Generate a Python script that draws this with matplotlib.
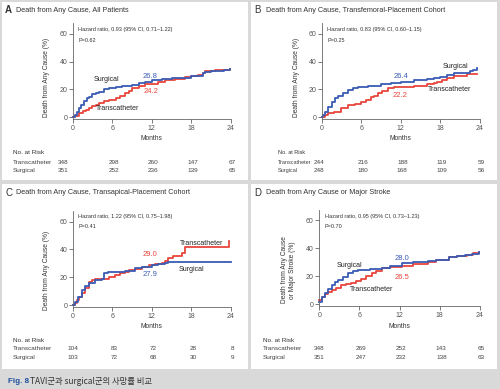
import numpy as np
import matplotlib
matplotlib.use("Agg")
import matplotlib.pyplot as plt
from matplotlib.patches import Rectangle

plt.rcParams['font.family'] = ['Liberation Sans', 'DejaVu Sans']

W, H = 500, 389
BLUE = '#3a5cb4'
RED = '#e8453c'
TXT = '#333333'

months = [0, 6, 12, 18, 24]
rows = ['Transcatheter', 'Surgical']

## panel A: all patients
a_sur_t = [0, 0.3, 0.6, 0.95, 1.3, 1.7, 2.1, 2.5, 3.0, 3.5, 4.0, 4.7, 5.5, 6.5, 7.5, 9.0, 10.0, 11.0, 12.0,
           13.5, 15.0, 16.5, 18.0, 19.0, 19.7, 20.1, 21.0, 22.0, 23.0, 23.9]
a_sur_y = [0, 1.5, 4, 6.5, 9, 11.5, 13.5, 14.8, 16.5, 17.5, 18.4, 20, 21.2, 22, 22.7, 23.2, 24.5, 25.5, 26.8,
           27.3, 28, 28.5, 29.3, 30, 31.5, 32.8, 33, 33.3, 34, 34.7]
a_tav_t = [0, 0.4, 0.95, 1.5, 2.0, 2.5, 3.0, 3.5, 4.0, 4.7, 5.5, 6.5, 7.2, 8.0, 8.5, 9.0, 10.0, 11.0, 12.0,
           13.0, 14.0, 15.5, 16.5, 17.0, 18.0, 19.0, 19.8, 20.1, 21.5, 23.1, 23.9]
a_tav_y = [0, 1, 2.9, 4.5, 5.5, 6.5, 8, 9, 10, 11.5, 12.5, 14, 15.5, 17.3, 19, 20.9, 22.5, 23.7, 24.2,
           25.5, 26.8, 27.3, 27.5, 29.2, 29.6, 30.6, 31.5, 33.3, 33.6, 34, 34.5]
a_risk = [[348, 298, 260, 147, 67], [351, 252, 236, 139, 65]]

## panel B: transfemoral cohort
b_sur_t = [0, 0.2, 0.5, 1.0, 1.5, 2.0, 2.5, 3.2, 4.0, 4.7, 5.5, 7.0, 9.0, 10.5, 12.0, 14.0, 16.0, 17.0,
           18.0, 19.0, 20.0, 21.0, 22.0, 22.5, 23.0, 23.5]
b_sur_y = [0, 2, 4, 7.5, 11.2, 13.5, 15.5, 17.5, 19.6, 21, 22, 22.8, 23.7, 24.8, 25.6, 26.5, 27.5, 28,
           29.2, 30.5, 31.6, 32, 32, 33, 34, 35.7]
b_tav_t = [0, 0.5, 1.0, 1.9, 3.0, 4.0, 5.0, 6.0, 6.7, 7.5, 8.0, 8.5, 9.2, 10.0, 11.0, 12.0, 14.0, 16.0,
           17.0, 17.5, 18.3, 19.0, 20.0, 20.5, 22.0, 23.5]
b_tav_y = [0, 1.6, 2.8, 4, 6.5, 8.8, 9.8, 11.2, 12.5, 14.8, 15.5, 17.3, 19, 20.9, 21.5, 22, 22.8, 23.7,
           24.5, 25.6, 27, 28, 29.5, 30, 31, 31.2]
b_risk = [[244, 216, 188, 119, 59], [248, 180, 168, 109, 56]]

## panel C: transapical cohort
c_tav_t = [0, 0.35, 0.7, 1.0, 1.36, 1.8, 2.4, 3.0, 3.4, 4.9, 5.5, 6.4, 7.2, 7.9, 8.6, 9.4, 10.5, 11.5,
           12.5, 13.5, 14.0, 14.5, 15.2, 16.0, 16.5, 17.0, 23.5, 23.7]
c_tav_y = [0, 1.2, 3.5, 5.5, 8.4, 12, 16.8, 17.8, 18.5, 18.5, 20, 21.6, 22.8, 24, 25, 25.7, 27.5, 28.8,
           29.3, 30, 32, 33.6, 35, 35.3, 37.5, 41.5, 41.5, 45.9]
c_sur_t = [0, 0.35, 0.8, 1.36, 1.9, 2.4, 3.4, 4.4, 4.8, 5.4, 7.9, 9.4, 10.5, 12.0, 13.0, 14.0, 14.5, 24.0]
c_sur_y = [0, 2.4, 6, 10.8, 13.5, 15.6, 18, 18.5, 22.8, 24, 24.7, 26.4, 27.3, 28.8, 29.5, 30.2, 31.2, 31.2]
c_risk = [[104, 83, 72, 28, 8], [103, 72, 68, 30, 9]]

## panel D: death or major stroke
d_sur_t = [0, 0.4, 0.85, 1.3, 1.85, 2.3, 2.8, 3.5, 4.3, 5.0, 5.8, 7.5, 9.3, 10.5, 12.3, 14.0, 16.3, 17.5,
           19.3, 20.5, 21.8, 22.8, 23.8]
d_sur_y = [1.9, 5, 7.9, 11, 13.8, 15.8, 17.4, 19.5, 22.1, 23.5, 24.5, 25.2, 25.7, 27.3, 29.3, 30, 31.1, 32,
           33.6, 34.5, 35.2, 36.2, 37.6]
d_tav_t = [0, 0.4, 0.85, 1.3, 1.85, 2.5, 3.3, 4.0, 4.8, 5.5, 6.3, 7.0, 7.8, 8.5, 9.3, 10.5, 12.3, 14.0,
           16.3, 17.5, 19.3, 20.5, 22.0, 23.0, 23.8]
d_tav_y = [3.1, 5.5, 7.4, 9, 10.2, 12, 13.8, 14.8, 15.4, 16.5, 17.9, 20, 22.1, 24, 25.7, 26.5, 27.4, 28.5,
           30.4, 32, 33.6, 34.8, 35.5, 36.5, 37.6]
d_risk = [[348, 269, 252, 143, 65], [351, 247, 232, 138, 63]]

panels = [
    dict(letter='A', title='Death from Any Cause, All Patients',
         ylabel='Death from Any Cause (%)',
         hr='Hazard ratio, 0.93 (95% CI, 0.71\u20131.22)', p='P=0.62',
         sur=(a_sur_t, a_sur_y), tav=(a_tav_t, a_tav_y), risk=a_risk,
         sur_lab=(5.1, 26.8), tav_lab=(6.8, 6.5), sur_num=('26.8', 11.7, 29.6), tav_num=('24.2', 11.9, 18.4),
         box=(2, 2, 248, 180), ax=(72.7, 231, 117.3, 1.393), title_y=10, ylab=(46, 77),
         hr_y=(30, 40), first_off=-10, lab_x=13, lab_fs=4.6, rows_y=(139, 153, 162.3, 170.7)),
    dict(letter='B', title='Death from Any Cause, Transfemoral-Placement Cohort',
         ylabel='Death from Any Cause (%)',
         hr='Hazard ratio, 0.83 (95% CI, 0.60\u20131.15)', p='P=0.25',
         sur=(b_sur_t, b_sur_y), tav=(b_tav_t, b_tav_y), risk=b_risk,
         sur_lab=(20.3, 36.8), tav_lab=(19.4, 19.6), sur_num=('26.4', 12.1, 29.6), tav_num=('22.2', 11.9, 16.0),
         box=(251, 2, 497, 180), ax=(321.7, 480, 117.3, 1.393), title_y=10, ylab=(296, 77),
         hr_y=(30, 40), first_off=-3, lab_x=278, lab_fs=4.0, rows_y=(139, 153, 162.3, 170.7)),
    dict(letter='C', title='Death from Any Cause, Transapical-Placement Cohort',
         ylabel='Death from Any Cause (%)',
         hr='Hazard ratio, 1.22 (95% CI, 0.75\u20131.98)', p='P=0.41',
         sur=(c_sur_t, c_sur_y), tav=(c_tav_t, c_tav_y), risk=c_risk,
         sur_lab=(18.0, 25.2), tav_lab=(19.5, 43.9), sur_num=('27.9', 11.7, 22.3), tav_num=('29.0', 11.7, 36.0),
         box=(2, 184, 248, 369), ax=(72.7, 231, 305, 1.39), title_y=193, ylab=(46, 270),
         hr_y=(216, 226), first_off=0, lab_x=13, lab_fs=4.6, rows_y=(326, 340, 348.3, 357.3)),
    dict(letter='D', title='Death from Any Cause or Major Stroke',
         ylabel='Death from Any Cause\nor Major Stroke (%)',
         hr='Hazard ratio, 0.95 (95% CI, 0.73\u20131.23)', p='P=0.70',
         sur=(d_sur_t, d_sur_y), tav=(d_tav_t, d_tav_y), risk=d_risk,
         sur_lab=(4.5, 28.0), tav_lab=(7.8, 10.9), sur_num=('28.0', 12.3, 32.9), tav_num=('26.5', 12.3, 19.3),
         box=(251, 184, 497, 369), ax=(319.3, 480, 304.3, 1.4), title_y=193, ylab=(288.5, 270),
         hr_y=(216, 226), first_off=0, lab_x=263, lab_fs=4.6, rows_y=(326, 340, 348.3, 357.3)),
]

fig = plt.figure(figsize=(W / 100, H / 100), dpi=100, facecolor='#d9d9d9')

def fx(px):
    return px / W

def fy(py):
    return 1 - py / H

for pn in panels:
    x1, y1, x2, y2 = pn['box']
    fig.patches.append(Rectangle((fx(x1), fy(y2)), (x2 - x1) / W, (y2 - y1) / H,
                                 transform=fig.transFigure, facecolor='white', edgecolor='none', zorder=-5))
    x0, x24, y0, ppu = pn['ax']
    ylo, yhi = -1.5, 67.5
    bottom = y0 - ylo * ppu
    top = y0 - yhi * ppu
    ax = fig.add_axes([fx(x0), fy(bottom), (x24 - x0) / W, (bottom - top) / H])
    ax.set_facecolor('none')
    ax.set_xlim(0, 24)
    ax.set_ylim(ylo, yhi)
    for s in ['top', 'right']:
        ax.spines[s].set_visible(False)
    for s in ['left', 'bottom']:
        ax.spines[s].set_color('#666666')
        ax.spines[s].set_linewidth(0.6)
    ax.set_xticks(months)
    ax.set_yticks([0, 20, 40, 60])
    ax.tick_params(length=3, width=0.6, color='#666666', pad=1, labelsize=5, labelcolor='#555555')

    ax.step(pn['tav'][0], pn['tav'][1], where='post', color=RED, lw=1.3, clip_on=False)
    ax.step(pn['sur'][0], pn['sur'][1], where='post', color=BLUE, lw=1.3, clip_on=False)

    ax.text(pn['sur_lab'][0], pn['sur_lab'][1], 'Surgical', fontsize=5, color='#222222', ha='center', va='center')
    ax.text(pn['tav_lab'][0], pn['tav_lab'][1], 'Transcatheter', fontsize=5, color='#222222', ha='center', va='center')
    ax.text(pn['sur_num'][1], pn['sur_num'][2], pn['sur_num'][0], fontsize=5.5, color=BLUE, ha='center', va='center')
    ax.text(pn['tav_num'][1], pn['tav_num'][2], pn['tav_num'][0], fontsize=5.5, color=RED, ha='center', va='center')

    # title and side texts
    fig.text(fx(x1 + 3), fy(pn['title_y']), pn['letter'], fontsize=7, fontweight='bold' if pn['letter'] == 'A' else 'normal',
             color=TXT, va='center')
    fig.text(fx(x1 + 14.5), fy(pn['title_y']), pn['title'], fontsize=5.2, color=TXT, va='center')
    fig.text(fx(pn['ylab'][0]), fy(pn['ylab'][1]), pn['ylabel'], fontsize=4.8, color=TXT, rotation=90,
             ha='center', va='center', linespacing=1.25)
    fig.text(fx(x0 + 5.5), fy(pn['hr_y'][0]), pn['hr'], fontsize=4.0, color=TXT, va='center')
    fig.text(fx(x0 + 5.5), fy(pn['hr_y'][1]), pn['p'], fontsize=4.0, color=TXT, va='center')

    # months label and numbers at risk
    my, ny, r1, r2 = pn['rows_y']
    fig.text(fx((x0 + x24) / 2), fy(my), 'Months', fontsize=4.8, color=TXT, ha='center', va='center')
    fig.text(fx(pn['lab_x']), fy(ny), 'No. at Risk', fontsize=pn['lab_fs'], color=TXT, va='center')
    for ry, name, vals in zip([r1, r2], rows, pn['risk']):
        fig.text(fx(pn['lab_x']), fy(ry), name, fontsize=pn['lab_fs'], color='#444444', va='center')
        for i, (m, v) in enumerate(zip(months, vals)):
            px = x0 + m * (x24 - x0) / 24 + (pn['first_off'] if i == 0 else 1.5)
            fig.text(fx(px), fy(ry), str(v), fontsize=4.6, color='#444444', ha='center', va='center')

# caption
fig.text(fx(8), fy(381.5), 'Fig. 8', fontsize=5.8, fontweight='bold', color='#1f4f9e', va='center')
fig.text(fx(29.5), fy(381.5), 'TAVI군과 surgical군의 사망률 비교', fontsize=6.0, color='#333333', va='center',
         family=['Noto Sans CJK KR', 'DejaVu Sans'])

fig.savefig('out.png', dpi=100, facecolor=fig.get_facecolor())
